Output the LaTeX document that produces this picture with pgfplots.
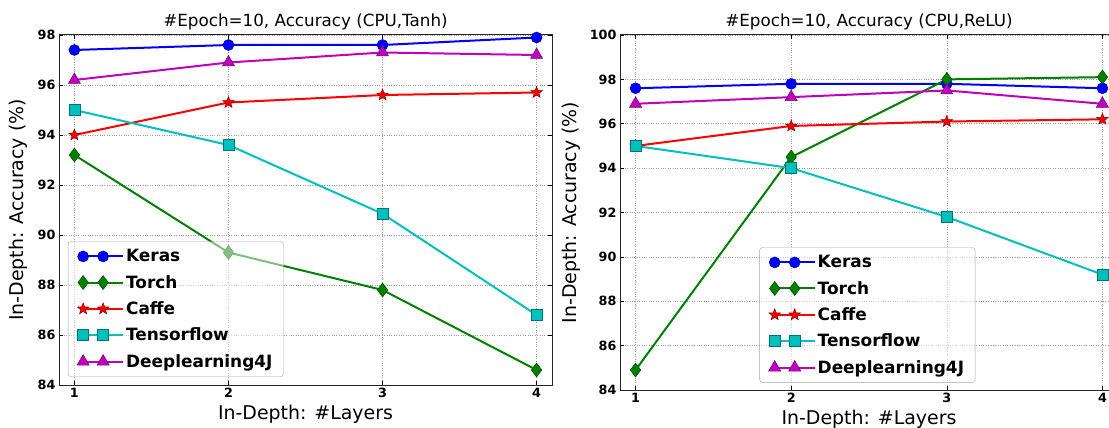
\documentclass[border=0pt]{standalone}
\usepackage{pgfplots}
\pgfplotsset{compat=1.18}
\usepackage{fontspec}
\setmainfont{DejaVu Sans}
\definecolor{mb}{rgb}{0,0,1}
\definecolor{mg}{rgb}{0,0.5,0}
\definecolor{mr}{rgb}{1,0,0}
\definecolor{mc}{rgb}{0,0.75,0.75}
\definecolor{mm}{rgb}{0.75,0,0.75}
\pgfdeclareplotmark{fstar}{%
 \pgfpathmoveto{\pgfpointpolar{90}{\pgfplotmarksize}}%
 \pgfpathlineto{\pgfpointpolar{126}{0.42\pgfplotmarksize}}%
 \pgfpathlineto{\pgfpointpolar{162}{\pgfplotmarksize}}%
 \pgfpathlineto{\pgfpointpolar{198}{0.42\pgfplotmarksize}}%
 \pgfpathlineto{\pgfpointpolar{234}{\pgfplotmarksize}}%
 \pgfpathlineto{\pgfpointpolar{270}{0.42\pgfplotmarksize}}%
 \pgfpathlineto{\pgfpointpolar{306}{\pgfplotmarksize}}%
 \pgfpathlineto{\pgfpointpolar{342}{0.42\pgfplotmarksize}}%
 \pgfpathlineto{\pgfpointpolar{18}{\pgfplotmarksize}}%
 \pgfpathlineto{\pgfpointpolar{54}{0.42\pgfplotmarksize}}%
 \pgfpathclose
 \pgfusepathqfillstroke}
\pgfplotsset{
 myaxis/.style={
  scale only axis, anchor=south west,
  xmin=0.9, xmax=4.1,
  xtick={1,2,3,4},
  grid=major, major grid style={dotted, gray!75, line width=0.6bp},
  axis line style={black!85, line width=1bp},
  tick align=inside, tick style={black, line width=0.6bp}, major tick length=4bp,
  ticklabel style={font=\fontsize{12.8}{15}\selectfont\bfseries},
  /pgf/number format/assume math mode=true,
  title style={font=\fontsize{16.8}{19}\selectfont, at={(0.5,1)}, anchor=south, yshift=-4bp},
  label style={font=\fontsize{19}{22}\selectfont},
  xlabel={In-Depth: \#Layers},
  ylabel={In-Depth: Accuracy (\%)},
  xlabel style={yshift=0bp},
  ylabel style={yshift=3bp},
  legend cell align=left,
  legend style={font=\fontsize{17}{20}\selectfont\bfseries, draw=gray!70, rounded corners=3bp,
    fill=white, fill opacity=0.5, text opacity=1, draw opacity=1, row sep=8bp,
    inner xsep=9bp, inner ysep=6bp},
  legend image code/.code={\path (0bp,0bp) -- (40bp,0bp);\draw[##1, draw opacity=1, fill opacity=1] plot coordinates {(0bp,0bp) (20bp,0bp)};},
  every axis plot/.append style={line width=2bp},
 },
 kstyle/.style={color=mb, mark=*, mark size=5.5bp, mark options={fill=mb, draw=mb!60!black, line width=0.5bp}},
 tstyle/.style={color=mg, mark=diamond*, mark size=7bp, mark options={fill=mg, draw=mg!60!black, line width=0.5bp}},
 cstyle/.style={color=mr, mark=fstar, mark size=6bp, mark options={fill=mr, draw=mr!50!black, line width=0.5bp}},
 fstyle/.style={color=mc, mark=square*, mark size=5.5bp, mark options={fill=mc, draw=mc!60!black, line width=0.5bp}},
 dstyle/.style={color=mm, mark=triangle*, mark size=7bp, mark options={fill=mm, draw=mm!60!black, line width=0.5bp}},
}
\begin{document}
\begin{tikzpicture}
\begin{scope}
\clip (0,0) rectangle (1109bp,428bp);
\begin{axis}[myaxis, at={(59bp,43bp)}, width=493bp, height=350bp,
  ymin=84, ymax=98, ytick={84,86,...,98},
  title={\#Epoch=10, Accuracy (CPU,Tanh)},
  legend style={at={(0.018,0.023)}, anchor=south west}]
\addplot[kstyle] coordinates {(1,97.4) (2,97.6) (3,97.6) (4,97.9)};
\addplot[tstyle] coordinates {(1,93.2) (2,89.3) (3,87.8) (4,84.6)};
\addplot[cstyle] coordinates {(1,94.0) (2,95.3) (3,95.6) (4,95.7)};
\addplot[fstyle] coordinates {(1,95.0) (2,93.6) (3,90.85) (4,86.8)};
\addplot[dstyle] coordinates {(1,96.2) (2,96.9) (3,97.3) (4,97.2)};
\legend{Keras,Torch,Caffe,Tensorflow,Deeplearning4J}
\end{axis}
\begin{axis}[myaxis, at={(620bp,38bp)}, width=498bp, height=355bp,
  ymin=84, ymax=100, ytick={84,86,...,100},
  title={\#Epoch=10, Accuracy (CPU,ReLU)},
  legend style={at={(0.28,0.02)}, anchor=south west}]
\addplot[kstyle] coordinates {(1,97.6) (2,97.8) (3,97.8) (4,97.6)};
\addplot[tstyle] coordinates {(1,84.9) (2,94.5) (3,98.0) (4,98.1)};
\addplot[cstyle] coordinates {(1,95.0) (2,95.9) (3,96.1) (4,96.2)};
\addplot[fstyle] coordinates {(1,95.0) (2,94.0) (3,91.8) (4,89.2)};
\addplot[dstyle] coordinates {(1,96.9) (2,97.2) (3,97.5) (4,96.9)};
\legend{Keras,Torch,Caffe,Tensorflow,Deeplearning4J}
\end{axis}
\end{scope}
\pgfresetboundingbox
\path[use as bounding box] (0,0) rectangle (1109bp,428bp);
\end{tikzpicture}
\end{document}
